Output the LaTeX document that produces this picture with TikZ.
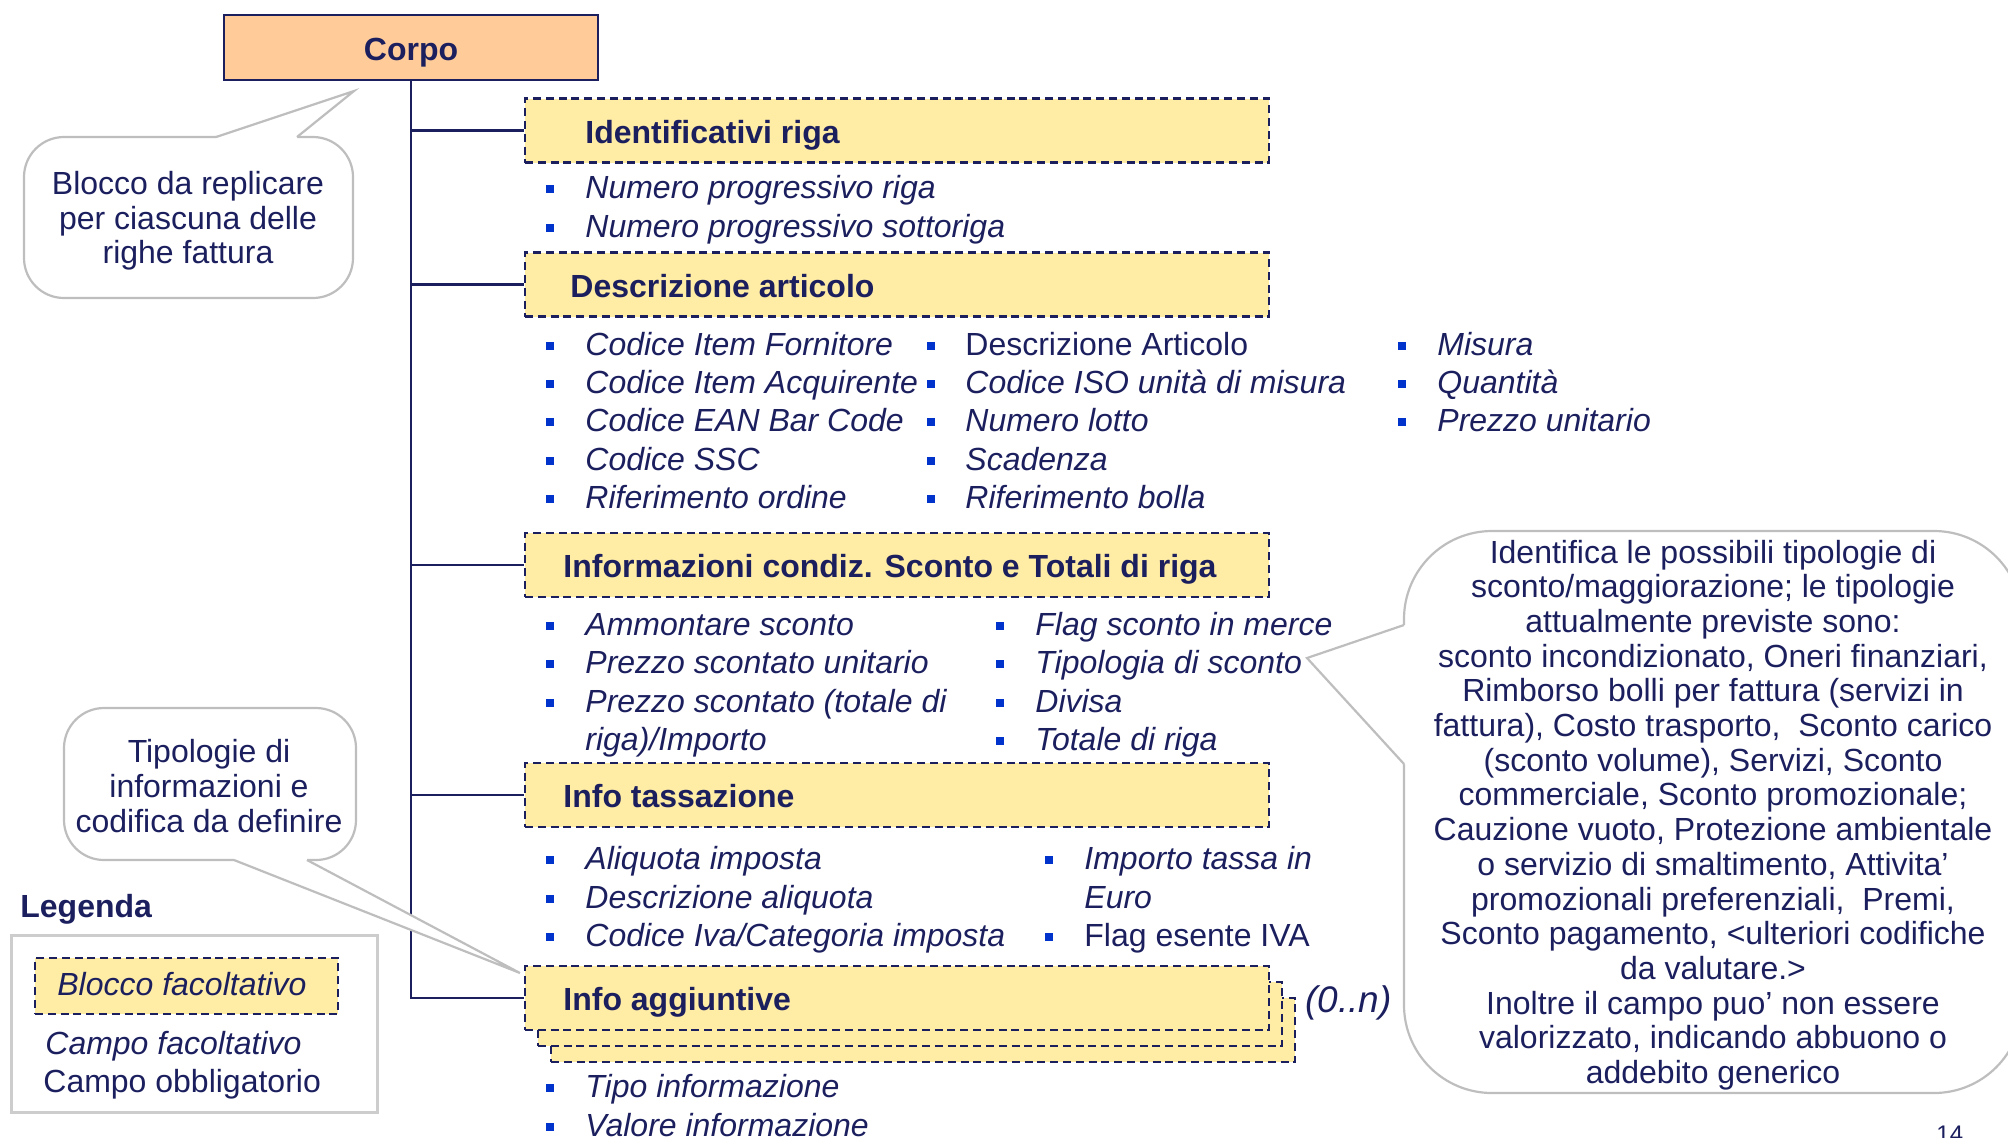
\documentclass[tikz,border=0pt]{standalone}
\usepackage{fontspec}
\setmainfont{Liberation Sans}
\definecolor{ink}{RGB}{27,31,94}
\definecolor{bulblue}{RGB}{0,51,204}
\definecolor{yel}{RGB}{255,236,165}
\definecolor{orng}{RGB}{255,204,153}
\definecolor{cgray}{RGB}{190,190,190}
\definecolor{lgray}{RGB}{205,205,205}
\newcommand\litem[6]{% name, bullet x, text x, baseline, style, text
  \node[bul] (#1b) at (#2,#4-9) {};
  \node[#5, anchor=base west] (#1) at (#3,#4) {#6};
}
\begin{document}
\begin{tikzpicture}[x=0.5pt,y=-0.5pt,
  txt/.style={font=\fontsize{16}{17.35}\selectfont, text=ink, inner sep=0pt},
  itx/.style={font=\fontsize{16}{17.35}\selectfont\itshape, text=ink, inner sep=0pt},
  hdr/.style={font=\fontsize{16}{17.35}\selectfont\bfseries, text=ink, inner sep=0pt},
  bul/.style={fill=bulblue, minimum size=4pt, inner sep=0pt, draw=none},
  optbox/.style={draw=ink, fill=yel, dash pattern=on 4pt off 2.4pt, line width=1.2pt,
     minimum width=372pt, minimum height=32pt, inner sep=0pt},
  tree/.style={draw=ink, line width=1.4pt},
  callout/.style={draw=cgray, line width=1.1pt, fill=white},
  wedgeline/.style={draw=cgray, line width=1.1pt},
]
\useasboundingbox (0,0) rectangle (2008,1137);
\clip (0,0) rectangle (2008,1137);

% ---- Corpo and tree ----
\node[draw=ink, fill=orng, line width=1.4pt, minimum width=187pt, minimum height=32.5pt, inner sep=0pt] (corpo) at (411,47.5) {};
\node[hdr, anchor=base] (corpotxt) at (411,60) {Corpo};

\node[optbox] (ident) at (897,130.5) {};
\node[optbox] (descr) at (897,284.5) {};
\node[optbox] (cond)  at (897,565) {};
\node[optbox] (tass)  at (897,795) {};
\node[optbox] (agg3)  at (923,1030) {};
\node[optbox] (agg2)  at (910,1014) {};
\node[optbox] (agg1)  at (897,998) {};

\coordinate (spineend) at (411,998);
\draw[tree] (corpo.south) -- (spineend) -- (agg1.west);
\draw[tree] (corpo.south |- ident.west) -- (ident.west);
\draw[tree] (corpo.south |- descr.west) -- (descr.west);
\draw[tree] (corpo.south |- cond.west) -- (cond.west);
\draw[tree] (corpo.south |- tass.west) -- (tass.west);

% ---- callouts ----
% callout 1
\draw[callout, rounded corners=20pt] (24,137) rectangle (353,298);
\fill[white] (216,141) -- (216,137) -- (354,91) -- (297,137) -- (297,141) -- cycle;
\coordinate (c1a) at (216,137); \coordinate (c1t) at (354,91); \coordinate (c1b) at (297,137);
\draw[wedgeline] (c1a) -- (c1t) -- (c1b);
\node[txt, align=center] (c1txt) at (188,221) {Blocco da replicare\\per ciascuna delle\\righe fattura};

% callout 2
\draw[callout, rounded corners=20pt] (64,708) rectangle (356,860);
\fill[white] (234,856) -- (234,860) -- (520,973) -- (307,860) -- (307,856) -- cycle;
\coordinate (c2a) at (234,860); \coordinate (c2t) at (520,973); \coordinate (c2b) at (307,860);
\draw[wedgeline] (c2a) -- (c2t) -- (c2b);
\node[txt, align=center] (c2txt) at (209,786) {Tipologie di\\informazioni e\\codifica da definire};

% callout 3 (big)
\draw[callout, rounded corners=44pt] (1404,531) rectangle (2022,1093);
\fill[white] (1408,625) -- (1404,625) -- (1307,658) -- (1404,764) -- (1408,764) -- cycle;
\coordinate (c3a) at (1404,625); \coordinate (c3t) at (1307,658); \coordinate (c3b) at (1404,764);
\draw[wedgeline] (c3a) -- (c3t) -- (c3b);
\node[txt, align=center] (c3txt) at (1713,815) {Identifica le possibili tipologie di\\
sconto/maggiorazione; le tipologie\\
attualmente previste sono:\\
sconto incondizionato, Oneri finanziari,\\
Rimborso bolli per fattura (servizi in\\
fattura), Costo trasporto,\ \ Sconto carico\\
(sconto volume), Servizi, Sconto\\
commerciale, Sconto promozionale;\\
Cauzione vuoto, Protezione ambientale\\
o servizio di smaltimento, Attivita’\\
promozionali preferenziali,\ \ Premi,\\
Sconto pagamento, <ulteriori codifiche\\
da valutare.>\\
Inoltre il campo puo’ non essere\\
valorizzato, indicando abbuono o\\
addebito generico};

% ---- headings ----
\node[hdr, anchor=base west] (identtxt) at (585,143) {Identificativi riga};
\node[hdr, anchor=base west] (descrtxt) at (570,297) {Descrizione articolo};
\node[hdr, anchor=base west] (condtxt) at (563,577) {Informazioni condiz. Sconto e Totali di riga};
\node[hdr, anchor=base west] (tasstxt) at (563,807) {Info tassazione};
\node[hdr, anchor=base west] (aggtxt) at (563,1010) {Info aggiuntive};
\node[font=\fontsize{18.5}{20}\selectfont\itshape, text=ink, inner sep=0pt, anchor=base west] (mult) at (1305,1012) {(0..n)};

% ---- lists ----
\litem{i1}{550}{585}{198}{itx}{Numero progressivo riga}
\litem{i2}{550}{585}{237}{itx}{Numero progressivo sottoriga}

\litem{d11}{550}{585}{355}{itx}{Codice Item Fornitore}
\litem{d12}{550}{585}{393}{itx}{Codice Item Acquirente}
\litem{d13}{550}{585}{431}{itx}{Codice EAN Bar Code}
\litem{d14}{550}{585}{470}{itx}{Codice SSC}
\litem{d15}{550}{585}{508}{itx}{Riferimento ordine}
\litem{d21}{931}{965}{355}{txt}{Descrizione Articolo}
\litem{d22}{931}{965}{393}{itx}{Codice ISO unità di misura}
\litem{d23}{931}{965}{431}{itx}{Numero lotto}
\litem{d24}{931}{965}{470}{itx}{Scadenza}
\litem{d25}{931}{965}{508}{itx}{Riferimento bolla}
\litem{d31}{1402}{1437}{355}{itx}{Misura}
\litem{d32}{1402}{1437}{393}{itx}{Quantità}
\litem{d33}{1402}{1437}{431}{itx}{Prezzo unitario}

\litem{s11}{550}{585}{635}{itx}{Ammontare sconto}
\litem{s12}{550}{585}{673}{itx}{Prezzo scontato unitario}
\litem{s13}{550}{585}{712}{itx}{Prezzo scontato (totale di}
\node[itx, anchor=base west] (s14) at (585,750) {riga)/Importo};
\litem{s21}{1000}{1035}{635}{itx}{Flag sconto in merce}
\litem{s22}{1000}{1035}{673}{itx}{Tipologia di sconto}
\litem{s23}{1000}{1035}{712}{itx}{Divisa}
\litem{s24}{1000}{1035}{750}{itx}{Totale di riga}

\litem{t11}{550}{585}{869}{itx}{Aliquota imposta}
\litem{t12}{550}{585}{908}{itx}{Descrizione aliquota}
\litem{t13}{550}{585}{946}{itx}{Codice Iva/Categoria imposta}
\litem{t21}{1049}{1084}{869}{itx}{Importo tassa in}
\node[itx, anchor=base west] (t22) at (1084,908) {Euro};
\litem{t23}{1049}{1084}{946}{txt}{Flag esente IVA}

\litem{a1}{550}{585}{1097}{itx}{Tipo informazione}
\litem{a2}{550}{585}{1136}{itx}{Valore informazione}

% ---- legend ----
\node[hdr, anchor=base west] (legtitle) at (20,917) {Legenda};
\node[draw=lgray, line width=1.5pt, minimum width=183pt, minimum height=88.5pt, inner sep=0pt] (legbox) at (194.5,1023.5) {};
\node[optbox, minimum width=151.5pt, minimum height=28pt] (legopt) at (186.5,986) {};
\node[itx, anchor=base west] (legopttxt) at (57,995) {Blocco facoltativo};
\node[itx, anchor=base west] (legfac) at (45,1054) {Campo facoltativo};
\node[txt, anchor=base west] (legobb) at (43,1092) {Campo obbligatorio};

% page number
\node[font=\fontsize{12}{14}\selectfont, text=ink, inner sep=0pt, anchor=base west] (pagenum) at (1936,1142) {14};
\end{tikzpicture}
\end{document}
